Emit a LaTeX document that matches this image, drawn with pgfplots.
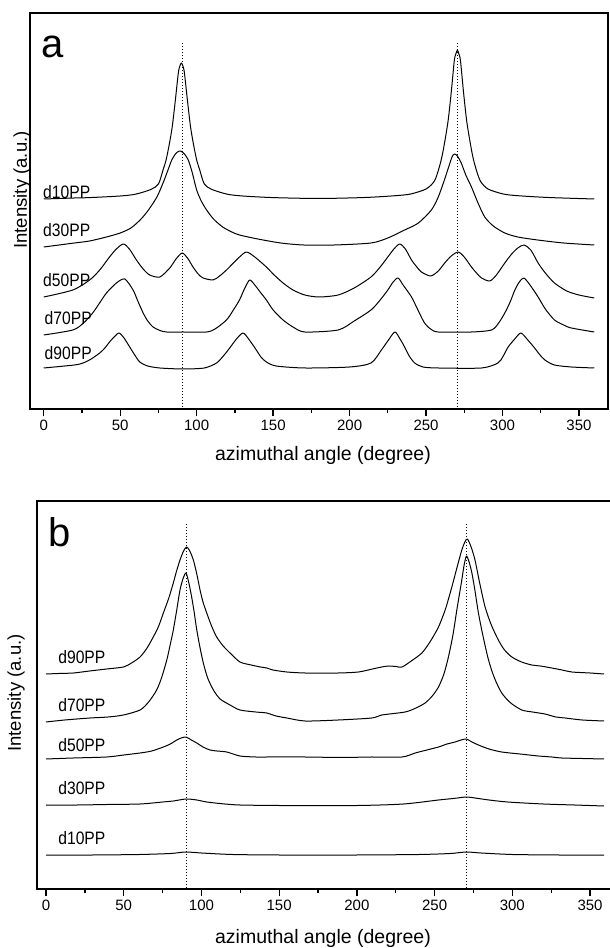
\documentclass[border=0pt]{standalone}
\usepackage{fontspec}
\setmainfont{Liberation Sans}
\usepackage{graphicx}
\usepackage{pgfplots}
\pgfplotsset{compat=1.18}

\newcommand\tickfont{\fontsize{15}{18}\selectfont}
\newcommand\labfont{\fontsize{18.5}{22}\selectfont}
\newcommand\xlabfont{\fontsize{19.5}{23}\selectfont}
\newcommand\curvefont{\fontsize{18}{21}\selectfont}
\newcommand\letterfont{\fontsize{40}{46}\selectfont}
\newcommand\cl[1]{\scalebox{0.87}[1]{#1}}

\pgfplotsset{
  panel/.style={
    scale only axis,
    ymin=0,
    axis line style={line width=1.5pt},
    tick align=outside,
    xtick pos=bottom,
    ytick=\empty,
    xtick={0,50,...,350},
    minor xtick={25,75,...,325},
    major tick length=7pt,
    minor tick length=4pt,
    every tick/.style={black, line width=1.3pt},
    tick label style={font=\tickfont},
    /pgf/number format/assume math mode=true,
    clip=false,
  },
  crv/.style={black, line width=1pt, line join=round, smooth, tension=0.45},
  dot/.style={black, line width=0.9pt, dash pattern=on 1pt off 2pt},
}

\begin{document}
\begin{tikzpicture}[x=1pt,y=1pt]
\useasboundingbox (0,0) rectangle (610,948);

% ---------------- panel a ----------------
\begin{axis}[panel, at={(30pt,539pt)}, anchor=south west,
  width=578pt, height=396pt, xmin=-9, xmax=369, ymax=396]
\addplot[dot] coordinates {(90.5,2) (90.5,366)};
\addplot[dot] coordinates {(270.5,2) (270.5,366)};
% d10PP
\addplot[crv] coordinates {(0,210) (20,211) (30,211.4) (50,213) (60,214.8) (70,219.5) (75,225) (78,239) (80,249) (82,264) (84,282) (86,308) (88,336) (89,343) (90,346) (91,343) (92,336) (94,308) (96,282) (98,264) (100,249) (102,239) (105,225) (110,219.5) (120,214.8) (130,213) (150,211.4) (180,210.5) (210,211.5) (230,213.3) (240,215) (250,220) (255.5,228) (258.5,241) (260.5,253) (262.5,269.6) (264.5,289) (266.5,317) (268.5,348.6) (269.5,355) (270.5,359) (271.5,355) (272.5,348.6) (274.5,317) (276.5,289) (278.5,269.6) (280.5,253) (282.5,241) (285.5,228) (290.5,220) (300.5,215) (310,213.3) (330,211.5) (360,210)};
% d30PP
\addplot[crv] coordinates {(0,162) (10,164) (20,166) (30,168) (41,172) (50,176) (57,181) (63,189) (68,198) (74,212) (78,226) (81,238) (84,250) (87,256.5) (89.5,258) (92,255) (94.5,249) (97,237) (100,219) (103,208) (106.5,199) (111,190) (117,182) (123,177) (128,174) (140,170) (155,166) (170,164) (190,164) (214,166) (225,171) (236,179) (245,186) (253.5,199) (258,212) (262,229) (265,243) (267,252) (268.5,255) (270.5,253) (273,246) (276,234) (279.7,222) (284,206) (288.4,192) (294,183) (301.5,176) (310,172) (323,169) (340,166) (360,164)};
% d50PP
\addplot[crv] coordinates {(0,112) (19,119) (30,129) (36.6,139) (43,152) (47.5,160) (52,165) (56,160) (60.6,149) (65,140) (69.3,134) (75.9,132) (82.4,141) (86.5,150) (90.5,156) (94,151) (97.6,142) (101,135) (104.2,131) (110.7,129) (115,133) (119.5,139) (124,146) (128,152) (132.6,157) (138,152) (145.6,142) (150,135) (156.5,126) (163,119) (170.7,114) (180,112) (192.5,114) (203,121) (214,132) (220,142) (225,152) (229,160) (232.8,165) (236.5,160) (240.5,149) (244,142) (247,137) (253,133) (258,138) (262.2,146) (266.5,153) (271,157) (275,152) (279.7,142) (283,136) (286.3,131) (291.7,128) (296,134) (301.5,146) (306,155) (310,161) (314,164) (318.5,159) (323.3,146) (328,136) (334,126) (342,118) (350,114) (360,111)};
% d70PP
\addplot[crv] coordinates {(0,74) (19,79) (26,86) (32,96) (36.5,106) (41,116) (47.5,126) (53,130) (58.4,119) (61.5,108) (65,96) (68,88) (71.5,82) (76,78.5) (80.2,77) (91,77) (106.4,77) (112,80) (119.5,89) (124,99) (128,109) (131.5,121) (134.7,129) (138,124) (141.5,117) (145.6,109) (150,99) (156.5,89) (163,82) (170.7,77) (192.5,79) (203,88) (214,99) (220,109) (225,119) (228.5,127) (231.7,131) (235,124) (240.5,112) (245,98) (249,86) (253,80) (258,77) (279.7,77) (292.8,79) (297.5,86) (301.5,96) (305,107) (308.1,119) (311,127) (314,131) (318,124) (323.3,112) (328,100) (334,89) (340,84) (345,81) (360,77)};
% d90PP
\addplot[crv] coordinates {(0,41) (20,44) (25.7,46) (31,50) (36.6,56) (40,61) (43,67) (46,72) (49.2,76) (52.5,71) (56.2,62) (59.5,54) (62.8,47) (68,43) (75.9,41) (91,40) (105,41) (113,46) (118,54) (121.6,61) (126,70) (130.3,76) (134,70) (139,59) (142,52) (145.6,47) (152,43) (170.7,41) (200,42) (214,46) (220.8,59) (225,68) (229.6,77) (233,70) (236,62) (239,53) (242.6,46) (248,42) (258,41) (286.3,41) (297,46) (300.5,53) (303.7,62) (308,70) (312,76) (316,70) (321,61) (324,55) (327.7,49) (334,44) (345,42) (360,41)};
\node[anchor=base west, inner sep=0pt, font=\curvefont] at (axis cs:-0.5,210) {\cl{d10PP}};
\node[anchor=base west, inner sep=0pt, font=\curvefont] at (axis cs:-0.5,172) {\cl{d30PP}};
\node[anchor=base west, inner sep=0pt, font=\curvefont] at (axis cs:-0.5,122) {\cl{d50PP}};
\node[anchor=base west, inner sep=0pt, font=\curvefont] at (axis cs:0.5,84) {\cl{d70PP}};
\node[anchor=base west, inner sep=0pt, font=\curvefont] at (axis cs:0.5,49) {\cl{d90PP}};
\end{axis}

% ---------------- panel b ----------------
\begin{axis}[panel, at={(37pt,59pt)}, anchor=south west,
  width=581pt, height=388pt, xmin=-5.8, xmax=368, ymax=388]
\addplot[dot] coordinates {(90.5,1) (90.5,366)};
\addplot[dot] coordinates {(270.3,1) (270.3,366)};
% d90PP
\addplot[crv] coordinates {(0,215) (8,215.5) (17.6,216) (28,218) (39,220) (49.8,222) (55,226) (60.5,232) (65,241) (69,252) (72.5,263) (75.5,276) (79,291) (81.9,306) (84,318) (86.2,329) (88.5,338) (90.5,342) (92.5,338) (94.8,329) (97,315) (99.1,299) (101,287) (103.4,276) (106.5,263) (109.8,252) (114,243) (118.4,236) (124.8,227) (132,224) (138,222) (142,221) (146,219) (155,217) (166.7,216) (188,216) (201,217) (210,220) (216,222) (220.3,223) (225,222.5) (229,222) (235,228) (241.8,236) (247,247) (252.5,262) (257,280) (261.1,302) (264.5,322) (267.5,339) (269.5,347) (271.1,350) (273.5,342) (276,329) (279,306) (282.5,282) (286.5,264) (291,249) (295,239) (299.7,232) (306,227) (312.5,224) (318,223) (325.4,221) (332,219) (338.3,217) (350,216) (359,215)};
% d70PP
\addplot[crv] coordinates {(0,167) (12,169) (28.3,171) (40,172) (49.8,174) (60.5,179) (66,187) (71.2,199) (74.5,212) (77.7,229) (80,245) (81.9,259) (84,278) (86.2,299) (88.3,311) (90.1,316) (91.9,306) (93.7,292) (95.4,276) (97,259) (99,242) (101.2,226) (104,211) (107.7,199) (112,190) (118.4,184) (124.8,179) (135,177) (142,176) (148,173) (155,171) (166.7,168) (188,169) (209.6,171) (216,174) (231,177) (238,181) (243.9,186) (248.5,193) (252.5,202) (256,215) (258.9,232) (261.8,254) (264.3,279) (266,295) (267.5,309) (269,324) (270.5,333) (272.2,327) (274,316) (276,298) (278.2,276) (281,254) (284.7,229) (288.5,211) (293.2,196) (299,186) (306.1,179) (313,177) (321,175) (328,172) (334,171) (345,169) (359,168)};
% d50PP
\addplot[crv] coordinates {(0,130) (17.6,131) (39,132) (50,134) (60.5,136) (68,138) (75.5,142) (80,145) (84.1,149) (87,151) (90.1,152) (93.5,149) (97,146) (101,142) (105.5,139) (110,138) (116.3,137) (124.8,133) (135,132) (142,132) (166.7,132) (190,131.5) (209.6,132) (229,132) (237.5,136) (245,139) (252.5,142) (258,145) (263.2,147) (267,149) (270.5,150) (274,147) (278.2,144) (285,140) (293.2,137) (305,135) (316.8,133) (325.4,132) (331.8,131) (345,130.5) (359,130)};
% d30PP
\addplot[crv] coordinates {(0,84) (20,84) (39,84.5) (60.5,85) (75,87) (81.9,88) (90.1,90) (97,89) (103.4,87) (115,85) (124.8,84) (150,83.5) (200,83.5) (230,85) (252.5,89) (262,90.5) (270.5,92) (276,91) (285,89) (297,87) (320,85) (340,84) (359,83)};
% d10PP
\addplot[crv] coordinates {(0,34) (30,34) (60,34.5) (80,35.5) (90,37) (100,36) (120,34.5) (150,34) (200,34) (240,34.5) (260,35.5) (270.5,37) (280,36) (300,34.5) (330,34) (359,34)};
\node[anchor=base west, inner sep=0pt, font=\curvefont] at (axis cs:7.8,225) {\cl{d90PP}};
\node[anchor=base west, inner sep=0pt, font=\curvefont] at (axis cs:7.8,177) {\cl{d70PP}};
\node[anchor=base west, inner sep=0pt, font=\curvefont] at (axis cs:7.8,137) {\cl{d50PP}};
\node[anchor=base west, inner sep=0pt, font=\curvefont] at (axis cs:7.8,94) {\cl{d30PP}};
\node[anchor=base west, inner sep=0pt, font=\curvefont] at (axis cs:7.8,45) {\cl{d10PP}};
\end{axis}

% titles and letters
\node[font=\xlabfont] at (323pt,493pt) {azimuthal angle (degree)};
\node[font=\xlabfont] at (323pt,10pt) {azimuthal angle (degree)};
\node[font=\labfont, rotate=90] at (22pt,758pt) {Intensity (a.u.)};
\node[font=\labfont, rotate=90] at (16pt,255pt) {Intensity (a.u.)};
\node[font=\letterfont, anchor=base west, inner sep=0pt] at (41.5pt,890pt) {a};
\node[font=\letterfont, anchor=base west, inner sep=0pt] at (48.5pt,401pt) {b};
\end{tikzpicture}
\end{document}
